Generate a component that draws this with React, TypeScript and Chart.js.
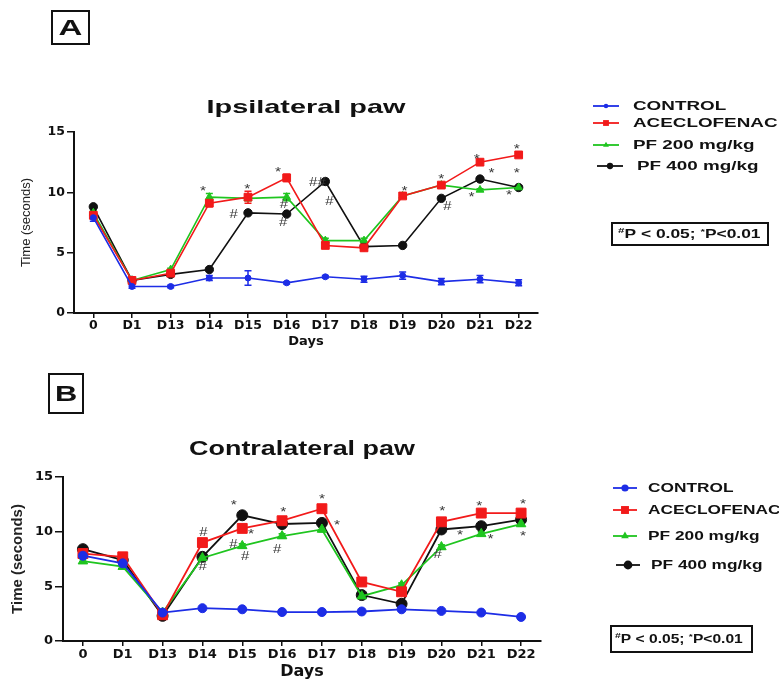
import React, { useEffect, useRef } from 'react';
import { Chart, registerables } from 'chart.js';

Chart.register(...registerables);

// ---------- DATA ----------
const days = ['0', 'D1', 'D13', 'D14', 'D15', 'D16', 'D17', 'D18', 'D19', 'D20', 'D21', 'D22'];
const groupNames = ['CONTROL', 'ACECLOFENAC', 'PF 200 mg/kg', 'PF 400 mg/kg'];
const yTicks = [0, 5, 10, 15];

// Panel A – Ipsilateral paw
const ipsiControl = [7.9, 2.2, 2.2, 2.9, 2.9, 2.5, 3.0, 2.8, 3.1, 2.6, 2.8, 2.5];
const ipsiAce = [8.1, 2.7, 3.3, 9.1, 9.6, 11.2, 5.6, 5.4, 9.7, 10.6, 12.5, 13.1];
const ipsiPf200 = [8.3, 2.7, 3.6, 9.6, 9.5, 9.6, 6.0, 6.0, 9.7, 10.6, 10.2, 10.4];
const ipsiPf400 = [8.8, 2.7, 3.2, 3.6, 8.3, 8.2, 10.9, 5.5, 5.6, 9.5, 11.1, 10.4];

const ipsiControlErr = [0.3, 0.15, 0.1, 0.2, 0.6, 0.1, 0.1, 0.25, 0.3, 0.25, 0.3, 0.25];
const ipsiAceErr = [0.3, 0.1, 0.2, 0.3, 0.5, 0.3, 0.2, 0.2, 0.2, 0.1, 0.1, 0.2];
const ipsiPf200Err = [0.2, 0.1, 0.1, 0.3, 0.2, 0.3, 0.2, 0.2, 0.2, 0.1, 0.1, 0.1];
const ipsiPf400Err = [0.1, 0.1, 0.1, 0.1, 0.1, 0.1, 0.2, 0.1, 0.1, 0.1, 0.1, 0.1];

// significance marks: [category position, value, symbol]
const ipsiMarks: [number, number, string][] = [
  [2.84, 10.35, '*'], [3.98, 10.5, '*'], [3.62, 8.2, '#'],
  [4.78, 11.9, '*'], [4.92, 8.95, '#'], [4.9, 7.5, '#'],
  [5.79, 10.85, '##'], [6.1, 9.2, '#'],
  [8.05, 10.3, '*'], [9.0, 11.35, '*'], [9.15, 8.8, '#'],
  [9.92, 13.0, '*'], [10.3, 11.85, '*'], [9.78, 9.8, '*'],
  [10.95, 13.8, '*'], [10.95, 11.85, '*'], [10.75, 10.0, '*'],
];

// Panel B – Contralateral paw
const contraControl = [7.8, 7.1, 2.6, 3.0, 2.9, 2.65, 2.65, 2.7, 2.9, 2.75, 2.6, 2.2];
const contraAce = [8.0, 7.7, 2.4, 9.0, 10.3, 11.0, 12.1, 5.4, 4.5, 10.9, 11.7, 11.7];
const contraPf200 = [7.3, 6.8, 2.6, 7.6, 8.7, 9.6, 10.2, 4.1, 5.1, 8.6, 9.8, 10.7];
const contraPf400 = [8.4, 7.4, 2.3, 7.7, 11.5, 10.7, 10.8, 4.2, 3.4, 10.2, 10.5, 11.1];

const contraControlErr = [0.2, 0.2, 0.1, 0.1, 0.1, 0.1, 0.1, 0.1, 0.1, 0.1, 0.1, 0.1];
const contraAceErr = [0.2, 0.2, 0.1, 0.2, 0.2, 0.2, 0.2, 0.2, 0.2, 0.2, 0.2, 0.2];
const contraPf200Err = [0.2, 0.2, 0.1, 0.2, 0.2, 0.2, 0.2, 0.2, 0.2, 0.2, 0.2, 0.2];
const contraPf400Err = [0.2, 0.2, 0.1, 0.2, 0.2, 0.2, 0.2, 0.2, 0.2, 0.2, 0.2, 0.2];

const contraMarks: [number, number, string][] = [
  [3.02, 9.9, '#'], [3.0, 6.8, '#'],
  [3.79, 12.7, '*'], [4.22, 10.0, '*'], [3.77, 8.8, '#'], [4.07, 7.7, '#'],
  [5.03, 12.0, '*'], [4.87, 8.4, '#'],
  [6.0, 13.2, '*'], [6.38, 10.8, '*'],
  [9.02, 12.1, '*'], [8.9, 7.9, '#'], [9.47, 9.9, '*'],
  [9.95, 12.6, '*'], [10.23, 9.6, '*'],
  [11.05, 12.8, '*'], [11.05, 9.8, '*'],
];

// ---------- STYLE ----------
const COLORS = ['#1d2de6', '#f21a1a', '#1fc51f', '#111111'];
const POINT_STYLES = ['circle', 'rect', 'triangle', 'circle'];
const ARIAL = '"Liberation Sans", Arial, sans-serif';
const DEJAVU = '"DejaVu Sans", sans-serif';

const panelA = {
  title: 'Ipsilateral paw',
  letter: 'A',
  values: [ipsiControl, ipsiAce, ipsiPf200, ipsiPf400],
  errors: [ipsiControlErr, ipsiAceErr, ipsiPf200Err, ipsiPf400Err],
  marks: ipsiMarks,
  width: 779,
  height: 370,
  area: { left: 74, right: 538, top: 132, bottom: 313 },
  radii: [3, 5.5, 4.5, 4.2],
  lineWidth: 1.6,
  tickSize: 12.5,
  xTickPad: 0,
  yTickLen: 7,
  yTitleFont: { family: ARIAL, size: 13, weight: 'normal' },
  yTitlePad: 19,
  daysFont: { family: DEJAVU, size: 13, weight: 'bold' },
  daysPad: 21,
  titleY: 108,
  titleFont: `bold 19px ${ARIAL}`,
  titleSx: 1.52,
  letterBox: [52, 11, 37, 33],
  letterFont: `bold 22px ${ARIAL}`,
  letterSx: 1.5,
  legendRows: [106, 123, 145, 166],
  legendLine: [593, 619],
  legendTextX: 633,
  legendLastShift: 4,
  legendFont: `bold 13px ${ARIAL}`,
  legendSx: 1.45,
  legendMarkerScale: 0.75,
  pBox: [612, 223, 156, 22],
  pTextX: 618,
  pSize: 12,
  pSx: 1.45,
};

const panelB = {
  title: 'Contralateral paw',
  letter: 'B',
  values: [contraControl, contraAce, contraPf200, contraPf400],
  errors: [contraControlErr, contraAceErr, contraPf200Err, contraPf400Err],
  marks: contraMarks,
  width: 779,
  height: 311,
  area: { left: 63, right: 541, top: 107, bottom: 271 },
  radii: [4.5, 7, 5.5, 5.5],
  lineWidth: 1.8,
  tickSize: 13,
  xTickPad: 1,
  yTickLen: 8,
  yTitleFont: { family: ARIAL, size: 15, weight: 'bold' },
  yTitlePad: 9,
  daysFont: { family: DEJAVU, size: 16, weight: 'bold' },
  daysPad: 0,
  titleY: 80,
  titleFont: `bold 19.5px ${ARIAL}`,
  titleSx: 1.38,
  letterBox: [49, 4, 34, 39],
  letterFont: `bold 22px ${ARIAL}`,
  letterSx: 1.4,
  legendRows: [118, 140, 166, 195],
  legendLine: [613, 637],
  legendTextX: 648,
  legendLastShift: 3,
  legendFont: `bold 13px ${ARIAL}`,
  legendSx: 1.33,
  legendMarkerScale: 0.8,
  pBox: [611, 256, 141, 26],
  pTextX: 615,
  pSize: 12,
  pSx: 1.3,
};

type Panel = typeof panelA;

// ---------- HELPERS ----------
function drawStretched(
  ctx: CanvasRenderingContext2D,
  text: string,
  x: number,
  y: number,
  font: string,
  sx: number,
  align: 'left' | 'center' | 'right' = 'left'
) {
  ctx.save();
  ctx.font = font;
  ctx.textBaseline = 'middle';
  ctx.textAlign = 'left';
  const w = ctx.measureText(text).width * sx;
  let x0 = x;
  if (align === 'center') x0 = x - w / 2;
  else if (align === 'right') x0 = x - w;
  ctx.translate(x0, y);
  ctx.scale(sx, 1);
  ctx.fillText(text, 0, 0);
  ctx.restore();
  return w;
}

function drawMarker(ctx: CanvasRenderingContext2D, style: string, x: number, y: number, r: number, color: string) {
  ctx.save();
  ctx.fillStyle = color;
  ctx.beginPath();
  if (style === 'circle') {
    ctx.arc(x, y, r, 0, Math.PI * 2);
  } else if (style === 'rect') {
    const s = r * Math.SQRT1_2;
    ctx.rect(x - s, y - s, 2 * s, 2 * s);
  } else {
    ctx.moveTo(x, y - r);
    ctx.lineTo(x + r * 0.866, y + r * 0.5);
    ctx.lineTo(x - r * 0.866, y + r * 0.5);
    ctx.closePath();
  }
  ctx.fill();
  ctx.restore();
}

function makeDecor(p: Panel) {
  return {
    id: 'decor' + p.letter,
    beforeDatasetsDraw(chart: any) {
      const ctx: CanvasRenderingContext2D = chart.ctx;
      const xs = chart.scales.x;
      const ys = chart.scales.y;
      ctx.save();
      p.values.forEach((vals, i) => {
        ctx.strokeStyle = COLORS[i];
        ctx.lineWidth = 1.5;
        vals.forEach((v, j) => {
          const e = p.errors[i][j];
          const x = xs.getPixelForValue(j);
          const y1 = ys.getPixelForValue(v + e);
          const y2 = ys.getPixelForValue(v - e);
          ctx.beginPath();
          ctx.moveTo(x, y1);
          ctx.lineTo(x, y2);
          ctx.moveTo(x - 3.5, y1);
          ctx.lineTo(x + 3.5, y1);
          ctx.moveTo(x - 3.5, y2);
          ctx.lineTo(x + 3.5, y2);
          ctx.stroke();
        });
      });
      ctx.restore();
    },
    afterDraw(chart: any) {
      const ctx: CanvasRenderingContext2D = chart.ctx;
      const xs = chart.scales.x;
      const ys = chart.scales.y;
      const area = chart.chartArea;

      // title
      ctx.fillStyle = '#111';
      drawStretched(ctx, p.title, (area.left + area.right) / 2, p.titleY, p.titleFont, p.titleSx, 'center');

      // letter box
      const [bx, by, bw, bh] = p.letterBox;
      ctx.save();
      ctx.strokeStyle = '#111';
      ctx.lineWidth = 2;
      ctx.strokeRect(bx, by, bw, bh);
      ctx.restore();
      ctx.fillStyle = '#111';
      drawStretched(ctx, p.letter, bx + bw / 2, by + bh / 2 + 1, p.letterFont, p.letterSx, 'center');

      // significance marks
      p.marks.forEach(([cx, v, s]) => {
        const x = xs.getPixelForValue(cx);
        const y = ys.getPixelForValue(v);
        ctx.fillStyle = '#3a3a3a';
        if (s.startsWith('*')) {
          drawStretched(ctx, s, x, y + 3, `13px ${ARIAL}`, 1.2, 'center');
        } else {
          drawStretched(ctx, s, x, y, `italic 12.5px ${ARIAL}`, 1.2, 'center');
        }
      });

      // legend
      groupNames.forEach((name, i) => {
        const y = p.legendRows[i];
        const shift = i === groupNames.length - 1 ? p.legendLastShift : 0;
        const x0 = p.legendLine[0] + shift;
        const x1 = p.legendLine[1] + shift;
        ctx.save();
        ctx.strokeStyle = COLORS[i];
        ctx.lineWidth = 1.8;
        ctx.beginPath();
        ctx.moveTo(x0, y);
        ctx.lineTo(x1, y);
        ctx.stroke();
        ctx.restore();
        drawMarker(ctx, POINT_STYLES[i], (x0 + x1) / 2, y, p.radii[i] * p.legendMarkerScale, COLORS[i]);
        ctx.fillStyle = '#111';
        drawStretched(ctx, name, p.legendTextX + shift, y, p.legendFont, p.legendSx);
      });

      // p-value box
      const [px, py, pw, ph] = p.pBox;
      ctx.save();
      ctx.strokeStyle = '#111';
      ctx.lineWidth = 2;
      ctx.strokeRect(px, py, pw, ph);
      ctx.restore();
      ctx.fillStyle = '#111';
      const cy = py + ph / 2 + 1;
      const big = `bold ${p.pSize}px ${ARIAL}`;
      const small = `bold ${Math.round(p.pSize * 0.65)}px ${ARIAL}`;
      let tx = p.pTextX;
      tx += drawStretched(ctx, '#', tx, cy - 4, small, p.pSx);
      tx += drawStretched(ctx, 'P < 0.05; ', tx, cy, big, p.pSx);
      tx += drawStretched(ctx, '*', tx, cy - 3, small, p.pSx);
      drawStretched(ctx, 'P<0.01', tx, cy, big, p.pSx);
    },
  };
}

function buildChart(canvas: HTMLCanvasElement, p: Panel) {
  const datasets = groupNames.map((name, i) => ({
    label: name,
    data: p.values[i],
    borderColor: COLORS[i],
    backgroundColor: COLORS[i],
    pointBackgroundColor: COLORS[i],
    pointBorderColor: COLORS[i],
    pointStyle: POINT_STYLES[i] as any,
    pointRadius: p.radii[i],
    pointBorderWidth: 1,
    borderWidth: p.lineWidth,
    tension: 0,
    fill: false,
  }));
  const tickFont = { family: DEJAVU, size: p.tickSize, weight: 'bold' as const };
  return new Chart(canvas, {
    type: 'line',
    data: { labels: days, datasets },
    options: {
      responsive: false,
      animation: false,
      devicePixelRatio: 1,
      layout: {
        padding: { top: p.area.top, right: p.width - p.area.right, left: 0, bottom: 0 },
      },
      plugins: {
        legend: { display: false },
        tooltip: { enabled: false },
        title: { display: false },
      },
      scales: {
        x: {
          type: 'category',
          offset: true,
          grid: {
            offset: false,
            drawOnChartArea: false,
            drawTicks: true,
            tickLength: 5,
            color: '#111',
            lineWidth: 1.5,
          },
          border: { display: true, color: '#111', width: 2 },
          ticks: {
            font: tickFont,
            color: '#111',
            padding: p.xTickPad,
            maxRotation: 0,
            minRotation: 0,
            autoSkip: false,
          },
          title: {
            display: true,
            text: 'Days',
            font: p.daysFont as any,
            color: '#111',
            padding: { top: 0, bottom: p.daysPad },
          },
          afterFit: (s: any) => {
            s.height = p.height - p.area.bottom;
          },
        },
        y: {
          min: yTicks[0],
          max: yTicks[yTicks.length - 1],
          afterBuildTicks: (s: any) => {
            s.ticks = yTicks.map((v) => ({ value: v }));
          },
          ticks: { font: tickFont, color: '#111', padding: 2 },
          grid: {
            drawOnChartArea: false,
            drawTicks: true,
            tickLength: p.yTickLen,
            color: '#111',
            lineWidth: 1.5,
          },
          border: { display: true, color: '#111', width: 2 },
          title: {
            display: true,
            text: 'Time (seconds)',
            font: p.yTitleFont as any,
            color: '#222',
            padding: { top: p.yTitlePad, bottom: 0 },
          },
          afterFit: (s: any) => {
            s.width = p.area.left;
          },
        },
      },
    },
    plugins: [makeDecor(p)],
  });
}

function PanelChart({ panel, top }: { panel: Panel; top: number }) {
  const ref = useRef<HTMLCanvasElement | null>(null);
  useEffect(() => {
    if (!ref.current) return;
    const chart = buildChart(ref.current, panel);
    return () => chart.destroy();
  }, [panel]);
  return (
    <canvas
      ref={ref}
      width={panel.width}
      height={panel.height}
      style={{
        position: 'absolute',
        left: 0,
        top,
        display: 'block',
        width: `${panel.width}px`,
        height: `${panel.height}px`,
      }}
    />
  );
}

export default function App() {
  return (
    <div
      style={{
        position: 'absolute',
        left: 0,
        top: 0,
        width: 779,
        height: 681,
        background: '#ffffff',
        overflow: 'hidden',
      }}
    >
      <PanelChart panel={panelA} top={0} />
      <PanelChart panel={panelB} top={370} />
    </div>
  );
}
